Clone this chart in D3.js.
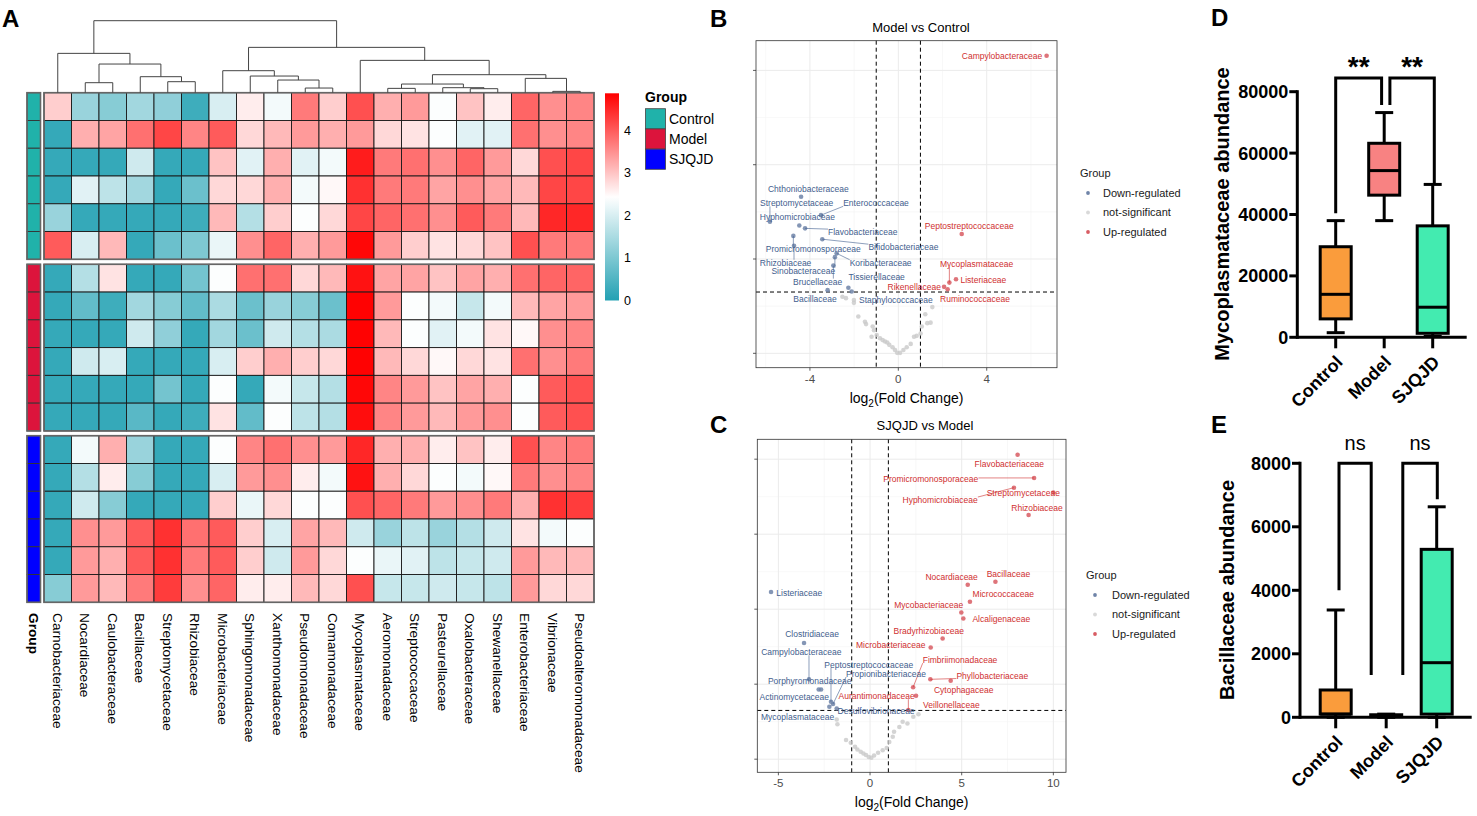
<!DOCTYPE html>
<meta charset="utf-8">
<script src="https://d3js.org/d3.v7.min.js"></script>
<style>
  body { margin: 0; background: #fff; }
  svg text { font-family: "Liberation Sans", Arial, Helvetica, sans-serif; }
</style>
<div id="figure"></div>
<script>

// ---------------- data ----------------

// heatmap columns, in dendrogram order
var families = ["Carnobacteriaceae", "Nocardiaceae", "Caulobacteraceae", "Bacillaceae",
  "Streptomycetaceae", "Rhizobiaceae", "Microbacteriaceae", "Sphingomonadaceae",
  "Xanthomonadaceae", "Pseudomonadaceae", "Comamonadaceae", "Mycoplasmataceae",
  "Aeromonadaceae", "Streptococcaceae", "Pasteurellaceae", "Oxalobacteraceae",
  "Shewanellaceae", "Enterobacteriaceae", "Vibrionaceae", "Pseudoalteromonadaceae"];

var groupNames = ["Control", "Model", "SJQJD"];
var groupColors = ["#20B2AA", "#DC143C", "#0000FF"];

// heatmap values (6 samples per group)
var heatControl = [
  [2.9,1.3,1.1,1.4,1.2,0.3,2.0,2.6,2.3,3.7,2.9,4.1,3.2,3.4,2.4,3.0,2.6,3.9,3.5,3.6],
  [0.2,3.2,3.3,3.8,4.2,3.6,4.0,2.8,3.1,3.4,3.2,3.4,2.8,2.7,2.4,2.1,2.1,3.8,3.5,3.6],
  [0.2,0.2,0.2,1.9,0.2,0.2,3.0,2.1,3.2,2.1,2.3,4.6,3.7,3.8,3.5,3.9,3.4,2.8,4.1,4.2],
  [0.2,2.1,1.7,1.4,0.2,0.8,2.8,2.8,3.2,2.3,2.5,4.4,3.7,3.7,3.3,3.5,3.3,3.1,4.2,4.2],
  [1.3,0.2,0.2,0.2,0.2,0.3,3.1,1.6,2.9,2.4,2.8,4.2,3.9,3.8,3.5,4.0,3.7,3.1,4.5,4.5],
  [4.0,2.0,3.1,0.2,0.8,1.0,2.2,3.5,3.9,3.2,3.4,4.8,3.4,2.9,2.7,2.8,3.0,4.1,3.7,3.7]];
var heatModel = [
  [0.2,1.6,2.7,0.2,0.2,0.9,2.4,3.8,3.8,2.8,3.1,4.7,3.3,3.3,3.0,3.3,3.2,3.8,3.9,3.9],
  [0.2,0.7,0.3,1.4,1.1,0.7,1.5,0.8,1.3,1.1,0.8,4.85,3.4,2.4,2.3,1.8,2.3,3.1,3.3,3.4],
  [0.2,0.2,0.2,1.9,1.2,0.2,1.4,0.8,1.9,1.6,1.5,4.85,3.1,2.4,2.1,2.3,2.7,2.5,3.5,3.6],
  [0.2,1.9,2.0,0.2,0.2,0.2,2.0,2.9,3.2,2.9,2.8,4.85,3.1,2.8,2.5,2.8,2.7,3.8,3.5,3.7],
  [0.2,0.2,0.2,0.2,0.9,0.2,2.4,0.2,2.3,1.8,1.6,4.8,3.6,3.4,3.0,3.3,3.2,2.4,4.0,4.1],
  [0.2,0.2,0.2,0.6,0.2,0.3,2.7,0.7,2.4,1.7,1.6,4.75,3.6,3.4,3.1,3.4,3.5,2.4,4.0,4.1]];
var heatSJQJD = [
  [0.2,2.3,3.2,1.3,0.2,0.2,2.4,3.6,3.8,3.5,3.4,4.5,3.2,3.2,2.6,3.0,2.6,4.1,3.6,3.7],
  [0.2,1.6,2.6,1.1,0.2,0.2,2.0,3.4,3.5,2.6,2.3,4.7,3.2,2.8,2.4,2.3,2.5,3.7,3.5,3.6],
  [0.2,1.9,1.1,0.2,0.2,0.2,2.9,2.2,2.8,2.4,2.4,4.1,3.9,3.7,3.4,3.5,3.7,3.2,4.4,4.3],
  [0.2,3.5,3.4,4.0,4.4,3.8,4.0,2.9,2.0,3.3,3.1,1.9,1.3,1.7,1.3,1.6,1.9,2.7,2.3,2.4],
  [0.2,3.4,3.2,4.0,4.4,3.7,4.0,2.9,1.9,3.4,2.8,2.4,2.2,2.1,1.7,1.8,1.9,3.4,3.1,3.1],
  [1.1,3.4,3.1,3.7,4.3,3.5,3.9,2.6,2.6,3.1,2.8,4.1,1.8,1.8,1.9,1.8,1.7,3.4,2.8,2.8]];
var colorbarTicks = [0, 1, 2, 3, 4];

// column dendrogram: [merge height, left, right], leaves are column indices
var dendroTree = [216,
  [118, 0, [86, [30, 1, 2], [48, 3, [33, 4, 5]]]],
  [136, [66, 6, [50, 7, [38, 8, [14, 9, 10]]]],
        [97, 11, [54, [26, [13, 12, 13], [15, 14, [12, 15, 16]]], [43, 17, [4, 18, 19]]]]]];

// volcano B: Model vs Control  [name, log2FC, -log10 p]
var downB = [["Chthoniobacteraceae",-4.40,3.32],["Streptomycetaceae",-5.81,2.79],
  ["Enterococcaceae",-3.50,2.93],["Hyphomicrobiaceae",-4.48,2.71],["Flavobacteriaceae",-4.22,2.65],
  ["Bifidobacteriaceae",-3.44,2.42],["Promicromonosporaceae",-4.75,2.49],["Rhizobiaceae",-4.72,2.28],
  ["Koribacteraceae",-2.79,2.12],["Sinobacteraceae",-2.87,2.04],["Brucellaceae",-2.94,1.86],
  ["Tissierellaceae",-2.26,1.39],["Bacillaceae",-3.20,1.34],["Staphylococcaceae",-2.11,1.31]];
var upB = [["Campylobacteraceae",6.71,6.31],["Peptostreptococcaceae",2.87,2.53],
  ["Mycoplasmataceae",2.31,1.50],["Listeriaceae",2.61,1.57],["Rikenellaceae",2.07,1.41],
  ["Ruminococcaceae",2.23,1.36]];
var nsB = [[-2.53,1.20],[-2.37,1.17],[-2.01,1.13],[-2.01,1.07],[-1.81,0.78],[-1.51,0.67],
  [-1.46,0.62],[-1.16,0.57],[-1.10,0.49],[-0.98,0.39],[-1.21,0.35],[-0.83,0.32],[-0.71,0.28],
  [-0.60,0.25],[-0.50,0.23],[-0.41,0.18],[-0.26,0.13],[-0.15,0.07],[-0.05,0.01],[0.08,0.01],
  [0.23,0.07],[0.38,0.13],[0.56,0.20],[0.71,0.35],[0.83,0.37],[1.01,0.42],[1.06,0.57],
  [1.22,0.83],[1.31,0.64],[1.46,0.65],[1.54,0.98]];
// repelled label anchors (log2FC, -log10 p) and whether a leader line is drawn
var labelB = {
  "Chthoniobacteraceae":[-4.07,3.49,0], "Streptomycetaceae":[-4.60,3.18,1],
  "Enterococcaceae":[-1.01,3.18,1], "Hyphomicrobiaceae":[-4.57,2.88,0],
  "Flavobacteriaceae":[-1.61,2.57,1], "Bifidobacteriaceae":[0.23,2.25,1],
  "Promicromonosporaceae":[-3.85,2.22,1], "Rhizobiaceae":[-5.10,1.92,1],
  "Koribacteraceae":[-0.80,1.92,1], "Sinobacteraceae":[-4.30,1.75,1],
  "Brucellaceae":[-3.65,1.52,1], "Tissierellaceae":[-0.98,1.61,0],
  "Bacillaceae":[-3.77,1.15,0], "Staphylococcaceae":[-0.11,1.13,0],
  "Campylobacteraceae":[4.69,6.31,0], "Peptostreptococcaceae":[3.21,2.70,0],
  "Mycoplasmataceae":[3.54,1.89,1], "Listeriaceae":[3.85,1.56,0],
  "Rikenellaceae":[0.72,1.41,0], "Ruminococcaceae":[3.47,1.15,0]};

// volcano C: SJQJD vs Model
var downC = [["Listeriaceae",-5.40,4.46],["Clostridiaceae",-3.60,3.10],
  ["Campylobacteraceae",-3.33,2.13],["Porphyromonadaceae",-2.80,1.86],
  ["Actinomycetaceae",-2.67,1.86],["Peptostreptococcaceae",-2.13,1.53],
  ["Propionibacteriaceae",-2.02,1.47],["Mycoplasmataceae",-2.22,1.40],
  ["Desulfovibrionaceae",-1.82,1.35]];
var upC = [["Flavobacteriaceae",8.05,8.12],["Promicromonosporaceae",8.95,7.50],
  ["Streptomycetaceae",10.0,7.11],["Hyphomicrobiaceae",7.85,7.24],["Rhizobiaceae",8.65,6.51],
  ["Nocardiaceae",5.33,4.65],["Bacillaceae",6.84,4.73],["Micrococcaceae",5.45,4.20],
  ["Mycobacteriaceae",4.98,3.91],["Alcaligenaceae",5.09,3.75],["Bradyrhizobiaceae",3.96,3.22],
  ["Microbacteriaceae",3.31,2.98],["Fimbriimonadaceae",2.35,1.92],["Phyllobacteriaceae",3.29,2.13],
  ["Cytophagaceae",4.40,2.09],["Aurantimonadaceae",2.09,1.31],["Veillonellaceae",2.51,1.69]];
var nsC = [[-1.82,1.06],[-1.78,0.93],[-1.31,0.51],[-1.05,0.44],[-0.82,0.33],[-0.69,0.26],
  [-0.51,0.20],[-0.36,0.15],[-0.22,0.11],[-0.07,0.06],[0.07,0.04],[0.22,0.10],[0.44,0.17],
  [0.69,0.24],[0.91,0.30],[1.05,0.46],[1.24,0.60],[1.31,0.73],[1.60,0.86],[1.78,1.00],
  [2.04,0.95],[2.36,1.13],[2.64,1.20]];
var labelC = {
  "Listeriaceae":[-3.86,4.44,0], "Clostridiaceae":[-3.16,3.33,0],
  "Campylobacteraceae":[-3.75,2.85,1], "Porphyromonadaceae":[-3.29,2.09,0],
  "Actinomycetaceae":[-4.13,1.66,0], "Peptostreptococcaceae":[-0.07,2.52,1],
  "Propionibacteriaceae":[0.87,2.27,1], "Mycoplasmataceae":[-3.95,1.13,0],
  "Desulfovibrionaceae":[0.33,1.29,0],
  "Flavobacteriaceae":[7.60,7.87,0], "Promicromonosporaceae":[3.31,7.47,1],
  "Streptomycetaceae":[8.36,7.11,0], "Hyphomicrobiaceae":[3.82,6.91,1],
  "Rhizobiaceae":[9.11,6.71,0], "Nocardiaceae":[4.45,4.86,0], "Bacillaceae":[7.55,4.95,0],
  "Micrococcaceae":[7.27,4.40,0], "Mycobacteriaceae":[3.20,4.12,0],
  "Alcaligenaceae":[7.16,3.75,0], "Bradyrhizobiaceae":[3.20,3.42,0],
  "Microbacteriaceae":[1.13,3.04,0], "Fimbriimonadaceae":[4.91,2.64,1],
  "Phyllobacteriaceae":[6.67,2.23,1], "Cytophagaceae":[5.11,1.84,0],
  "Aurantimonadaceae":[0.36,1.68,1], "Veillonellaceae":[4.44,1.44,0]};

// box plots: [min, q1, median, q3, max]
var mycoStats = [[1500,6000,14000,29500,38000],[38000,46300,54300,63200,73200],[300,1300,9800,36300,49800]];
var mycoTicks = [0, 20000, 40000, 60000, 80000];
var mycoBrackets = [[0, 1, 84500, 40400, 75700, "**"], [1, 2, 84500, 75700, 50200, "**"]];
var bacilStats = [[0,100,100,860,3380],[0,20,50,80,100],[0,100,1720,5290,6630]];
var bacilTicks = [0, 2000, 4000, 6000, 8000];
var bacilBrackets = [[0, 1, 8000, 4000, 1330, "ns"], [1, 2, 8000, 1330, 6870, "ns"]];

// ---------------- svg ----------------
var svg = d3.select("#figure").append("svg")
  .attr("width", 1477).attr("height", 816);

// panel letters
[["A", 2, 27], ["B", 710, 27], ["C", 710, 433], ["D", 1211, 26], ["E", 1211, 433]].forEach(function(p) {
  svg.append("text").attr("x", p[1]).attr("y", p[2]).text(p[0])
    .attr("font-size", 24).attr("font-weight", "bold");
});

// ================= A: heatmap =================
var heatColor = d3.scaleLinear().domain([0, 2.43, 4.87])
  .range(["#23a1b3", "#ffffff", "#ff0000"]).clamp(true);

var xHeat = d3.scaleBand().domain(d3.range(families.length)).range([44, 594]);
var rowH = 27.77;
var blockTop = [92.7, 264.3, 435.7];
var blocks = [heatControl, heatModel, heatSJQJD];

var gA = svg.append("g");

blocks.forEach(function(rows, b) {
  var yRow = d3.scaleBand().domain(d3.range(rows.length))
    .range([blockTop[b], blockTop[b] + rowH * rows.length]);
  rows.forEach(function(vals, i) {
    gA.selectAll(null).data(vals).enter().append("rect")
      .attr("x", function(d, j) { return xHeat(j); })
      .attr("y", yRow(i))
      .attr("width", xHeat.bandwidth())
      .attr("height", yRow.bandwidth())
      .attr("fill", function(d) { return heatColor(d); })
      .attr("stroke", "#1a1a1a").attr("stroke-width", 0.9);
    // group annotation cell
    gA.append("rect").attr("x", 27).attr("y", yRow(i))
      .attr("width", 13.5).attr("height", yRow.bandwidth())
      .attr("fill", groupColors[b]).attr("stroke", "#333").attr("stroke-width", 0.9);
  });
  gA.append("rect").attr("x", 44).attr("y", blockTop[b])
    .attr("width", 550).attr("height", rowH * rows.length)
    .attr("fill", "none").attr("stroke", "#666").attr("stroke-width", 1.6);
  gA.append("rect").attr("x", 27).attr("y", blockTop[b])
    .attr("width", 13.5).attr("height", rowH * rows.length)
    .attr("fill", "none").attr("stroke", "#666").attr("stroke-width", 1.6);
});

// dendrogram
var yDendro = d3.scaleLinear().domain([0, 216]).range([92.7, 20.7]);
var dendroLinks = [];
function layoutDendro(node) {
  if (typeof node === "number") return { x: xHeat(node) + xHeat.bandwidth() / 2, h: 0 };
  var l = layoutDendro(node[1]), r = layoutDendro(node[2]);
  dendroLinks.push({ l: l, r: r, h: node[0] });
  return { x: (l.x + r.x) / 2, h: node[0] };
}
layoutDendro(dendroTree);
gA.selectAll(".dlink").data(dendroLinks).enter().append("path")
  .attr("d", function(d) {
    return "M" + d.l.x + "," + yDendro(d.l.h) + "V" + yDendro(d.h) +
      "H" + d.r.x + "V" + yDendro(d.r.h);
  })
  .attr("fill", "none").attr("stroke", "#444").attr("stroke-width", 1);

// column labels
gA.selectAll(".clab").data(families).enter().append("text")
  .attr("transform", function(d, j) {
    return "translate(" + (xHeat(j) + xHeat.bandwidth() / 2) + ",613) rotate(90)";
  })
  .attr("dy", "0.35em").attr("font-size", 13.7).text(function(d) { return d; });
gA.append("text").attr("transform", "translate(33.7,613) rotate(90)")
  .attr("dy", "0.35em").attr("font-size", 13.7).attr("font-weight", "bold").text("Group");

// colour bar
var cbScale = d3.scaleLinear().domain([0, 4.87]).range([300.5, 93.3]);
var grad = svg.append("defs").append("linearGradient").attr("id", "cbgrad")
  .attr("x1", 0).attr("y1", 1).attr("x2", 0).attr("y2", 0);
d3.range(0, 1.0001, 0.05).forEach(function(t) {
  grad.append("stop").attr("offset", t).attr("stop-color", heatColor(t * 4.87));
});
gA.append("rect").attr("x", 605).attr("y", 93.3).attr("width", 14)
  .attr("height", 300.5 - 93.3).attr("fill", "url(#cbgrad)");
gA.selectAll(".cbt").data(colorbarTicks).enter().append("text")
  .attr("x", 624).attr("y", function(d) { return cbScale(d); })
  .attr("dy", "0.35em").attr("font-size", 12.5).text(function(d) { return d; });

// group legend
gA.append("text").attr("x", 645).attr("y", 102).attr("font-size", 14)
  .attr("font-weight", "bold").text("Group");
groupNames.forEach(function(name, i) {
  gA.append("rect").attr("x", 645.5).attr("y", 108.7 + i * 20.2)
    .attr("width", 20).attr("height", 20.2)
    .attr("fill", groupColors[i]).attr("stroke", "#444").attr("stroke-width", 0.8);
  gA.append("text").attr("x", 669).attr("y", 108.7 + i * 20.2 + 10.1)
    .attr("dy", "0.35em").attr("font-size", 14).text(name);
});

// ================= B / C: volcano plots =================
var downCol = "#3F5E8E", upCol = "#CF2F2F";

function drawVolcano(o) {
  var x = d3.scaleLinear().domain(o.xDomain).range([o.left, o.right]);
  var y = d3.scaleLinear().domain(o.yDomain).range([o.bottom, o.top]);
  var g = svg.append("g");

  svg.select("defs").append("clipPath").attr("id", o.id).append("rect")
    .attr("x", o.left).attr("y", o.top)
    .attr("width", o.right - o.left).attr("height", o.bottom - o.top);

  // grid
  g.selectAll(null).data(o.xMinor).enter().append("line")
    .attr("x1", x).attr("x2", x).attr("y1", o.top).attr("y2", o.bottom)
    .attr("stroke", "#f3f3f3").attr("stroke-width", 0.6);
  g.selectAll(null).data(o.yMinor).enter().append("line")
    .attr("y1", y).attr("y2", y).attr("x1", o.left).attr("x2", o.right)
    .attr("stroke", "#f3f3f3").attr("stroke-width", 0.6);
  g.selectAll(null).data(o.xMajor).enter().append("line")
    .attr("x1", x).attr("x2", x).attr("y1", o.top).attr("y2", o.bottom)
    .attr("stroke", "#ebebeb").attr("stroke-width", 1);
  g.selectAll(null).data(o.yMajor).enter().append("line")
    .attr("y1", y).attr("y2", y).attr("x1", o.left).attr("x2", o.right)
    .attr("stroke", "#ebebeb").attr("stroke-width", 1);

  // thresholds
  [-1, 1].forEach(function(v) {
    g.append("line").attr("x1", x(v)).attr("x2", x(v)).attr("y1", o.top).attr("y2", o.bottom)
      .attr("stroke", "#000").attr("stroke-width", 1).attr("stroke-dasharray", "4,3");
  });
  g.append("line").attr("x1", o.left).attr("x2", o.right)
    .attr("y1", y(1.3)).attr("y2", y(1.3))
    .attr("stroke", "#000").attr("stroke-width", 1).attr("stroke-dasharray", "4,3");

  // points
  var pg = g.append("g").attr("clip-path", "url(#" + o.id + ")");
  pg.selectAll(null).data(o.ns).enter().append("circle")
    .attr("cx", function(d) { return x(d[0]); }).attr("cy", function(d) { return y(d[1]); })
    .attr("r", 2.3).attr("fill", "#c9c9c9").attr("fill-opacity", 0.8);
  pg.selectAll(null).data(o.down).enter().append("circle")
    .attr("cx", function(d) { return x(d[1]); }).attr("cy", function(d) { return y(d[2]); })
    .attr("r", 2.3).attr("fill", "#6f84a8").attr("fill-opacity", 0.85);
  pg.selectAll(null).data(o.up).enter().append("circle")
    .attr("cx", function(d) { return x(d[1]); }).attr("cy", function(d) { return y(d[2]); })
    .attr("r", 2.3).attr("fill", "#d85c63").attr("fill-opacity", 0.85);

  // labels with leader lines
  var lg = g.append("g");
  function addLabels(rows, col) {
    rows.forEach(function(d) {
      var p = o.labels[d[0]];
      if (!p) return;
      var t = lg.append("text").attr("x", x(p[0])).attr("y", y(p[1]))
        .attr("dy", "0.35em").attr("text-anchor", "middle")
        .attr("font-size", 8.5).attr("fill", col).text(d[0]);
      if (p[2]) {
        var bb = t.node().getBBox();
        var px = x(d[1]), py = y(d[2]);
        var cx = Math.max(bb.x, Math.min(px, bb.x + bb.width));
        var cy = Math.max(bb.y + 2, Math.min(py, bb.y + bb.height - 2));
        lg.insert("line", "text").attr("x1", px).attr("y1", py).attr("x2", cx).attr("y2", cy)
          .attr("stroke", col).attr("stroke-width", 0.6);
      }
    });
  }
  addLabels(o.down, downCol);
  addLabels(o.up, upCol);

  // frame and axes
  g.append("rect").attr("x", o.left).attr("y", o.top)
    .attr("width", o.right - o.left).attr("height", o.bottom - o.top)
    .attr("fill", "none").attr("stroke", "#333").attr("stroke-width", 0.8);
  g.selectAll(null).data(o.xMajor).enter().append("line")
    .attr("x1", x).attr("x2", x).attr("y1", o.bottom).attr("y2", o.bottom + 3)
    .attr("stroke", "#333").attr("stroke-width", 0.8);
  g.selectAll(null).data(o.yMajor).enter().append("line")
    .attr("y1", y).attr("y2", y).attr("x1", o.left - 3).attr("x2", o.left)
    .attr("stroke", "#333").attr("stroke-width", 0.8);
  g.selectAll(null).data(o.xMajor).enter().append("text")
    .attr("x", x).attr("y", o.bottom + 11).attr("dy", "0.35em")
    .attr("text-anchor", "middle").attr("font-size", 11.5).attr("fill", "#4d4d4d")
    .text(function(d) { return d; });

  var at = g.append("text").attr("x", (o.left + o.right) / 2).attr("y", o.bottom + 35)
    .attr("text-anchor", "middle").attr("font-size", 14);
  at.append("tspan").text("log");
  at.append("tspan").attr("font-size", 10).attr("dy", 4).text("2");
  at.append("tspan").attr("dy", -4).text("(Fold Change)");

  g.append("text").attr("x", o.titleX).attr("y", o.titleY).attr("dy", "0.35em")
    .attr("text-anchor", "middle").attr("font-size", 13).text(o.title);

  // legend
  g.append("text").attr("x", o.legX).attr("y", o.legY).attr("dy", "0.35em")
    .attr("font-size", 11).attr("fill", "#1a1a1a").text("Group");
  [["Down-regulated", "#6f84a8"], ["not-significant", "#d9d9d9"], ["Up-regulated", "#d85c63"]]
    .forEach(function(e, i) {
      var yy = o.legY + 20 + i * 19.5;
      g.append("circle").attr("cx", o.legX + o.dotDx).attr("cy", yy).attr("r", 1.9).attr("fill", e[1]);
      g.append("text").attr("x", o.legX + o.textDx).attr("y", yy).attr("dy", "0.35em")
        .attr("font-size", 11).attr("fill", "#1a1a1a").text(e[0]);
    });
}

drawVolcano({
  id: "clipB", left: 756, right: 1057, top: 40.7, bottom: 367.7,
  xDomain: [-6.44, 7.18], yDomain: [-0.305, 6.63],
  xMajor: [-4, 0, 4], xMinor: [-6, -2, 2, 6], yMajor: [0, 2, 4, 6], yMinor: [1, 3, 5],
  down: downB, up: upB, ns: nsB, labels: labelB,
  title: "Model vs Control", titleX: 921, titleY: 27,
  legX: 1080, legY: 173, dotDx: 8, textDx: 23
});
drawVolcano({
  id: "clipC", left: 757.3, right: 1066, top: 439.3, bottom: 772.3,
  xDomain: [-6.15, 10.69], yDomain: [-0.35, 8.53],
  xMajor: [-5, 0, 5, 10], xMinor: [-2.5, 2.5, 7.5], yMajor: [0, 2, 4, 6, 8], yMinor: [1, 3, 5, 7],
  down: downC, up: upC, ns: nsC, labels: labelC,
  title: "SJQJD vs Model", titleX: 925, titleY: 425,
  legX: 1086, legY: 575, dotDx: 9, textDx: 26
});

// ================= D / E: box plots =================
var boxFills = ["#FA9C3C", "#F88282", "#43EBB0"];

function drawBox(o) {
  var y = d3.scaleLinear().domain([0, o.ticks[o.ticks.length - 1]]).range([o.zeroY, o.topY]);
  var x = d3.scalePoint().domain(groupNames).range(o.catRange);
  var g = svg.append("g");
  var lw = 3;

  // boxes
  o.stats.forEach(function(s, i) {
    var cx = x(groupNames[i]), hw = 15.5, cw = 9;
    g.append("line").attr("x1", cx).attr("x2", cx).attr("y1", y(s[0])).attr("y2", y(s[4]))
      .attr("stroke", "#000").attr("stroke-width", lw);
    [s[0], s[4]].forEach(function(v) {
      g.append("line").attr("x1", cx - cw).attr("x2", cx + cw).attr("y1", y(v)).attr("y2", y(v))
        .attr("stroke", "#000").attr("stroke-width", lw);
    });
    g.append("rect").attr("x", cx - hw).attr("y", y(s[3]))
      .attr("width", hw * 2).attr("height", Math.max(0.5, y(s[1]) - y(s[3])))
      .attr("fill", boxFills[i]).attr("stroke", "#000").attr("stroke-width", lw);
    g.append("line").attr("x1", cx - hw).attr("x2", cx + hw).attr("y1", y(s[2])).attr("y2", y(s[2]))
      .attr("stroke", "#000").attr("stroke-width", lw);
  });

  // y axis
  g.append("line").attr("x1", o.axisX).attr("x2", o.axisX).attr("y1", y(o.ticks[o.ticks.length - 1]) - 1.5)
    .attr("y2", o.zeroY + 1.5).attr("stroke", "#000").attr("stroke-width", lw);
  g.selectAll(null).data(o.ticks).enter().append("line")
    .attr("x1", o.axisX - 8).attr("x2", o.axisX).attr("y1", y).attr("y2", y)
    .attr("stroke", "#000").attr("stroke-width", lw);
  g.selectAll(null).data(o.ticks).enter().append("text")
    .attr("x", o.axisX - 9).attr("y", y).attr("dy", "0.36em").attr("text-anchor", "end")
    .attr("font-size", 18).attr("font-weight", "bold").text(function(d) { return d; });
  g.append("text").attr("transform", "translate(" + o.titleX + "," + o.titleY + ") rotate(-90)")
    .attr("text-anchor", "middle").attr("dy", "0.36em")
    .attr("font-size", 20).attr("font-weight", "bold").text(o.title);

  // x axis
  g.append("line").attr("x1", o.axisX).attr("x2", o.axisEnd).attr("y1", o.zeroY).attr("y2", o.zeroY)
    .attr("stroke", "#000").attr("stroke-width", lw);
  groupNames.forEach(function(c) {
    g.append("line").attr("x1", x(c)).attr("x2", x(c)).attr("y1", o.zeroY).attr("y2", o.zeroY + 11)
      .attr("stroke", "#000").attr("stroke-width", lw);
    g.append("text").attr("transform", "translate(" + (x(c) + 8) + "," + (o.zeroY + 26) + ") rotate(-45)")
      .attr("text-anchor", "end").attr("font-size", 18).attr("font-weight", "bold").text(c);
  });

  // significance brackets
  o.brackets.forEach(function(b) {
    var xl = x(groupNames[b[0]]) + o.legOffset[b[0]][0];
    var xr = x(groupNames[b[1]]) + o.legOffset[b[1]][1];
    g.append("path")
      .attr("d", "M" + xl + "," + y(b[3]) + "V" + y(b[2]) + "H" + xr + "V" + y(b[4]))
      .attr("fill", "none").attr("stroke", "#000").attr("stroke-width", lw);
    g.append("text").attr("x", (xl + xr) / 2).attr("y", y(b[2]) + o.labelDy)
      .attr("text-anchor", "middle").attr("font-size", o.labelSize)
      .attr("font-weight", o.labelWeight).text(b[5]);
  });
}

drawBox({
  stats: mycoStats, ticks: mycoTicks, brackets: mycoBrackets,
  axisX: 1297.3, axisEnd: 1466.7, zeroY: 337.3, topY: 91.7,
  catRange: [1335.7, 1432.7], title: "Mycoplasmataceae abundance", titleX: 1221.7, titleY: 214,
  legOffset: [[0, 0], [5.7, -2.6], [0, 1.6]], labelDy: -2, labelSize: 28, labelWeight: "bold"
});
drawBox({
  stats: bacilStats, ticks: bacilTicks, brackets: bacilBrackets,
  axisX: 1300, axisEnd: 1471.7, zeroY: 717.3, topY: 463.3,
  catRange: [1335.7, 1436.7], title: "Bacillaceae abundance", titleX: 1226.7, titleY: 590,
  legOffset: [[3.3, 0], [16.6, -15], [0, 0.6]], labelDy: -13, labelSize: 20, labelWeight: "normal"
});

</script>
